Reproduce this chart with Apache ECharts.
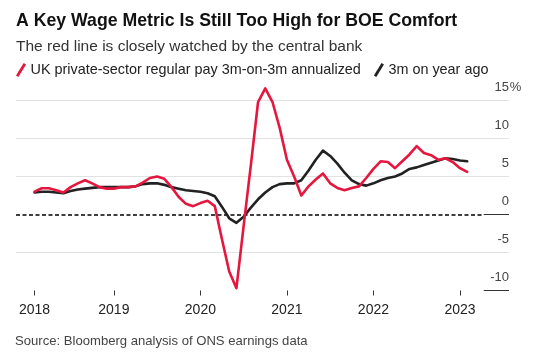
<!DOCTYPE html>
<html>
<head>
<meta charset="utf-8">
<script src="https://cdn.jsdelivr.net/npm/echarts@6/dist/echarts.min.js"></script>
<style>
html,body{margin:0;padding:0;background:#fff;}
#chart{width:536px;height:360px;}
</style>
</head>
<body>
<div id="chart"></div>
<script>
const months = [
 '2018-02','2018-03','2018-04','2018-05','2018-06','2018-07','2018-08','2018-09','2018-10','2018-11','2018-12',
 '2019-01','2019-02','2019-03','2019-04','2019-05','2019-06','2019-07','2019-08','2019-09','2019-10','2019-11','2019-12',
 '2020-01','2020-02','2020-03','2020-04','2020-05','2020-06','2020-07','2020-08','2020-09','2020-10','2020-11','2020-12',
 '2021-01','2021-02','2021-03','2021-04','2021-05','2021-06','2021-07','2021-08','2021-09','2021-10','2021-11','2021-12',
 '2022-01','2022-02','2022-03','2022-04','2022-05','2022-06','2022-07','2022-08','2022-09','2022-10','2022-11','2022-12',
 '2023-01','2023-02'
];
const pay3m3m = [
 3.0,3.45,3.45,3.2,2.9,3.6,4.1,4.5,4.1,3.6,3.4,
 3.4,3.6,3.6,3.7,4.2,4.8,5.0,4.7,3.6,2.3,1.4,1.1,
 1.5,1.8,1.1,-3.3,-7.5,-9.7,-1.5,6.5,14.8,16.6,14.8,11.4,
 7.2,5.0,2.5,3.7,4.6,5.4,4.1,3.5,3.2,3.5,3.7,4.8,
 6.0,7.0,6.9,6.1,7.0,7.9,9.0,8.1,7.8,7.2,7.4,6.9,
 6.1,5.6
];
const payYoY = [
 2.9,3.0,3.0,2.9,2.8,3.1,3.3,3.4,3.5,3.6,3.6,
 3.6,3.6,3.6,3.7,4.0,4.1,4.1,3.9,3.6,3.4,3.2,3.1,
 3.0,2.8,2.4,1.0,-0.5,-1.1,-0.3,0.9,2.0,2.9,3.6,4.0,
 4.1,4.1,4.5,5.8,7.2,8.4,7.7,6.7,5.5,4.5,4.0,3.8,
 4.1,4.5,4.8,5.0,5.4,6.0,6.2,6.5,6.8,7.1,7.4,7.3,
 7.1,7.0
];
const tickMonths = ['2018-02','2019-01','2020-01','2021-01','2022-01','2023-01'];
const tickLabels = ['2018','2019','2020','2021','2022','2023'];
const yTicks = [-10,-5,0,5,10,15];
const seriesNames = ['UK private-sector regular pay 3m-on-3m annualized','3m on year ago'];

const RED = '#e5173f';
const DARK = '#222222';
const X_MIN = -2.57, X_MAX = 65.8, LABEL_ZONE = 62.3;
const tickIdx = tickMonths.map(m => months.indexOf(m));

const chart = echarts.init(document.getElementById('chart'), null, {renderer:'canvas'});
const slash = 'path://M0,13 L8,0 L10.5,1.6 L2.5,14.6 Z';
const FONT = '"Liberation Sans", Arial, Helvetica, sans-serif';

chart.setOption({
  animation:false,
  textStyle:{fontFamily:FONT},
  title:[
    {text:'A Key Wage Metric Is Still Too High for BOE Comfort', left:16, top:12, padding:0,
     textStyle:{fontSize:17.7, fontWeight:'bold', color:'#111', fontFamily:FONT}},
    {text:'The red line is closely watched by the central bank', left:16, top:39, padding:0,
     textStyle:{fontSize:15.5, fontWeight:'normal', color:'#333', fontFamily:FONT}},
    {text:'Source: Bloomberg analysis of ONS earnings data', left:15, top:335, padding:0,
     textStyle:{fontSize:13.1, fontWeight:'normal', color:'#444', fontFamily:FONT}}
  ],
  legend:{
    left:16, top:63, padding:0, itemGap:13, itemWidth:11, itemHeight:14,
    textStyle:{fontSize:14.4, color:'#222', fontFamily:FONT, padding:[0,0,0,-1]},
    data:[{name:seriesNames[0], icon:slash},{name:seriesNames[1], icon:slash}]
  },
  grid:{left:16, right:27, top:100.5, bottom:69.5, containLabel:false},
  xAxis:{
    type:'value', min:X_MIN, max:X_MAX,
    axisLine:{show:false, onZero:false},
    splitLine:{show:false},
    axisTick:{show:true, customValues:tickIdx, length:5, lineStyle:{color:'#333', width:1}},
    axisLabel:{customValues:tickIdx, margin:13, fontSize:14, color:'#222', fontFamily:FONT,
      formatter:function(v){ const k = tickIdx.indexOf(Math.round(v)); return k>=0 ? tickLabels[k] : ''; }}
  },
  yAxis:{
    type:'value', position:'right', min:yTicks[0], max:yTicks[yTicks.length-1], interval:5,
    axisLine:{show:false}, axisTick:{show:false},
    splitLine:{show:true, lineStyle:{color:['rgba(0,0,0,0)','#e2e2e2','rgba(0,0,0,0)','#e2e2e2','#e2e2e2','#e2e2e2'], width:1}},
    axisLabel:{
      inside:false, margin:13, align:'right', verticalAlign:'bottom', padding:[0,0,6,0],
      color:'#444', fontSize:13, fontFamily:FONT, lineHeight:14,
      formatter:function(v){ return '{v|'+v+'}{p|'+(v===yTicks[yTicks.length-1]?'%':' ')+'}'; },
      rich:{
        v:{fontSize:13, color:'#444', fontFamily:FONT, lineHeight:14},
        p:{fontSize:13, color:'#444', fontFamily:FONT, lineHeight:14, width:13, align:'left'}
      }
    }
  },
  series:[
    {
      name:seriesNames[1], type:'line', showSymbol:false, symbol:'none', z:3, clip:false,
      data: payYoY.map((v,i)=>[i,v]),
      lineStyle:{color:DARK, width:2.6, cap:'round', join:'round'},
      itemStyle:{color:DARK},
      markLine:{
        silent:true, symbol:'none', label:{show:false}, z:1,
        data:[
          [{coord:[X_MIN,0], lineStyle:{color:'#000', width:1.5, type:[4,2.5]}},{coord:[LABEL_ZONE,0]}],
          [{coord:[LABEL_ZONE,0], lineStyle:{color:'#333', width:1, type:'solid'}},{coord:[X_MAX,0]}],
          [{coord:[LABEL_ZONE,-10], lineStyle:{color:'#333', width:1, type:'solid'}},{coord:[X_MAX,-10]}]
        ]
      }
    },
    {
      name:seriesNames[0], type:'line', showSymbol:false, symbol:'none', z:4, clip:false,
      data: pay3m3m.map((v,i)=>[i,v]),
      lineStyle:{color:RED, width:2.6, cap:'round', join:'round'},
      itemStyle:{color:RED}
    }
  ]
});
</script>
</body>
</html>
